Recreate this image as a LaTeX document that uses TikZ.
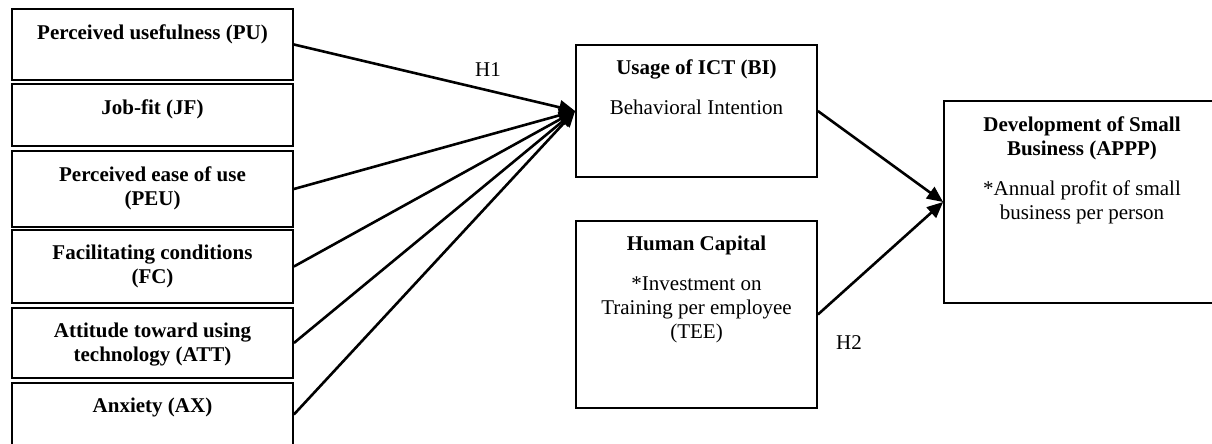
\documentclass[tikz,border=0pt]{standalone}
\usepackage{fontspec}
\setmainfont{Liberation Serif}
\usetikzlibrary{arrows.meta}
\tikzset{
    box/.style={draw,line width=1.8pt,inner sep=0pt},
    txt/.style={anchor=north,align=center,inner sep=0pt,font=\fontsize{21}{24}\selectfont},
    hd/.style={txt,font=\fontsize{21}{24}\selectfont\bfseries},
    hyp/.style={inner sep=0pt,font=\fontsize{21}{24}\selectfont},
    arr/.style={line width=2.6pt,-{Triangle[length=16pt,width=14pt]}}
}
\def\under#1{([yshift=-16pt]#1.north)}

\begin{document}
\begin{tikzpicture}[x=1pt,y=-1pt]
                \useasboundingbox (0,0) rectangle (1212,444);
                \node[box,minimum width=281pt,minimum height=71pt] (pu)  at (152.5,44.5)  {};
                \node[box,minimum width=281pt,minimum height=62pt] (jf)  at (152.5,115)   {};
                \node[box,minimum width=281pt,minimum height=76pt] (peu) at (152.5,189)   {};
                \node[box,minimum width=281pt,minimum height=73pt] (fc)  at (152.5,266.5) {};
                \node[box,minimum width=281pt,minimum height=70pt] (att) at (152.5,343)   {};
                \node[box,minimum width=281pt,minimum height=63pt] (ax)  at (152.5,414.5) {};
                \node[box,minimum width=241pt,minimum height=132pt] (bi)  at (696.5,111)   {};
                \node[box,minimum width=241pt,minimum height=187pt] (hc)  at (696.5,314.5) {};
                \node[box,minimum width=276pt,minimum height=202pt] (dev) at (1082,202)    {};
                \node[hd] (pu-t)  at \under{pu}  {Perceived usefulness (PU)};
                \node[hd] (jf-t)  at \under{jf}  {Job-fit (JF)};
                \node[hd] (peu-t) at \under{peu} {Perceived ease of use\\(PEU)};
                \node[hd] (fc-t)  at \under{fc}  {Facilitating conditions\\(FC)};
                \node[hd] (att-t) at \under{att} {Attitude toward using\\technology (ATT)};
                \node[hd] (ax-t)  at \under{ax}  {Anxiety (AX)};
                \node[txt] (bi-t) at ([yshift=-15pt]bi.north) {\textbf{Usage of ICT (BI)}\\[16pt]Behavioral Intention};
                \node[txt] (hc-t) at \under{hc} {\textbf{Human Capital}\\[16pt]*Investment on\\Training per employee\\(TEE)};
                \node[txt] (dev-t) at \under{dev} {\textbf{Development of Small}\\\textbf{Business (APPP)}\\[16pt]*Annual profit of small\\business per person};
                \draw[arr] (pu.east)  -- (bi.west);
                \draw[arr] (peu.east) -- (bi.west);
                \draw[arr] (fc.east)  -- (bi.west);
                \draw[arr] (att.east) -- (bi.west);
                \draw[arr] (ax.east)  -- (bi.west);
                \draw[arr] (bi.east)  -- (dev.west);
                \draw[arr] (hc.east)  -- (dev.west);
                \node[hyp] (h1) at (488,70)  {H1};
                \node[hyp] (h2) at (849,343) {H2};
            \end{tikzpicture}
\end{document}
